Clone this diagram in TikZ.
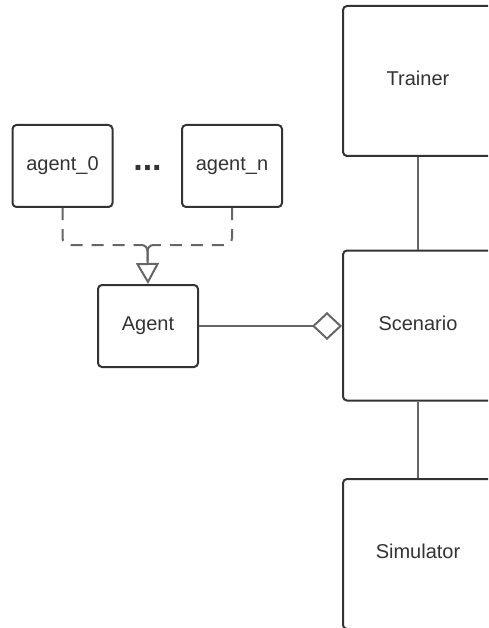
\documentclass[tikz,border=0pt]{standalone}
\usepackage{fontspec}
\setmainfont{Liberation Sans}
\usetikzlibrary{arrows.meta}
\definecolor{boxline}{HTML}{333333}
\definecolor{conn}{HTML}{666666}
\definecolor{txt}{HTML}{333333}

\begin{document}
\begin{tikzpicture}[x=1pt,y=-1pt,
  box/.style={draw=boxline, line width=2pt, rounded corners=4pt,
    minimum width=100pt, minimum height=82pt, inner sep=0pt, text=txt,
    font=\fontsize{20}{24}\selectfont, text height=14.3pt, text depth=4.5pt},
  bigbox/.style={box, minimum width=150pt, minimum height=150pt},
  link/.style={draw=conn, line width=2pt},
  dashlink/.style={link, dash pattern=on 12pt off 9pt}
]
\useasboundingbox (0,0) rectangle (488,628);
\clip (0,0) rectangle (488,628);

% agent classes
\node[box] (a0) at (62.5,166) {agent\_0};
\node[box] (an) at (232,166) {agent\_n};
\node[text=txt, inner sep=0pt, font=\fontsize{34}{34}\selectfont\bfseries] (dots) at (147.5,168) {...};
\node[box] (ag) at (148,326) {Agent};

% main components
\node[bigbox] (tr) at (418,81) {Trainer};
\node[bigbox] (sc) at (418,325.5) {Scenario};
\node[bigbox] (si) at (418,554) {Simulator};

\draw[link] (tr) -- (sc);
\draw[link] (sc) -- (si);
\draw[link, -{Diamond[open, length=30pt, width=28pt]}] (ag.east) -- (ag.east -| sc.west);

% generalisation: agent_0 ... agent_n -> Agent
\coordinate (j) at (147.5,245);
\coordinate (jl) at (136,245);
\coordinate (jr) at (159,245);
\coordinate (jt) at (147.5,261);
\draw[dashlink, rounded corners=7pt] (a0.south) |- (jl);
\draw[dashlink, rounded corners=7pt] (an.south) |- (jr);
\draw[link, rounded corners=6pt] (jl) -- (j) -- (jt);
\draw[link, rounded corners=6pt] (jr) -- (j) -- (jt);
\draw[link, -{Triangle[open, length=21pt, width=23pt]}] (jt) -- (ag.north);
\end{tikzpicture}
\end{document}
